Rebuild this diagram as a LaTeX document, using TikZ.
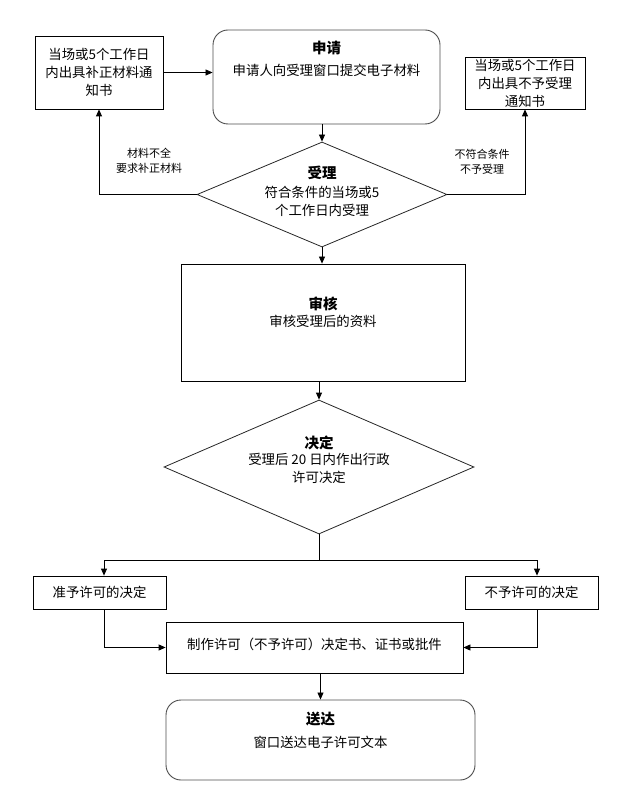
\documentclass[tikz,border=0pt]{standalone}
\usepackage{fontspec}
\setmainfont{Noto Sans CJK SC}
\usetikzlibrary{shapes.geometric,arrows.meta}
\begin{document}
\begin{tikzpicture}[x=1pt,y=-1pt,
  font=\fontsize{13.4}{18}\selectfont,
  box/.style={draw=black,line width=0.8pt,inner sep=0pt},
  rbox/.style={draw=black!70,line width=0.9pt,rounded corners=15pt,inner sep=0pt},
  dia/.style={draw=black!85,line width=0.8pt,shape=diamond,inner sep=0pt},
  txt/.style={align=center,inner sep=0pt},
  ttl/.style={font=\fontsize{14.5}{18}\selectfont\bfseries,inner sep=0pt},
  lbl/.style={align=center,inner sep=0pt,font=\fontsize{11}{15}\selectfont},
  arr/.style={draw=black,line width=0.8pt,-{Triangle[length=7pt,width=6pt]}},
  ln/.style={draw=black,line width=0.8pt}]
\useasboundingbox (0,0) rectangle (633,791);
% shapes
\node[box,minimum width=128pt,minimum height=73pt] (lb) at (99,72.5) {};
\node[txt] (lbt) at (99,72) {当场或5个工作日\\内出具补正材料通\\知书};
\node[rbox,minimum width=227pt,minimum height=94pt] (apply) at (326.5,77) {};
\node[ttl] (applyt) at (326.5,48) {申请};
\node[txt] (applyb) at (326.5,70) {申请人向受理窗口提交电子材料};
\node[box,minimum width=120pt,minimum height=52pt] (rb) at (525,83) {};
\node[txt] (rbt) at (525,83) {当场或5个工作日\\内出具不予受理\\通知书};
\node[dia,minimum width=250pt,minimum height=105pt] (d1) at (322,194.5) {};
\node[ttl] (d1t) at (322,173) {受理};
\node[txt] (d1b) at (322,201) {符合条件的当场或5\\个工作日内受理};
\node[box,minimum width=284pt,minimum height=117pt] (rev) at (323,322.5) {};
\node[ttl] (revt) at (323,304) {审核};
\node[txt] (revb) at (323,321) {审核受理后的资料};
\node[dia,minimum width=310pt,minimum height=134pt] (d2) at (319,467) {};
\node[ttl] (d2t) at (319,443) {决定};
\node[txt] (d2b) at (319,468.5) {受理后 20 日内作出行政\\许可决定};
\node[box,minimum width=133pt,minimum height=33pt] (ok) at (99.5,592.5) {};
\node[txt] (okt) at (99.5,592.5) {准予许可的决定};
\node[box,minimum width=133pt,minimum height=33pt] (no) at (531.5,592.5) {};
\node[txt] (not) at (531.5,592.5) {不予许可的决定};
\node[box,minimum width=297pt,minimum height=51pt] (mk) at (314.5,647.5) {};
\node[txt] (mkt) at (314.5,644) {制作许可（不予许可）决定书、证书或批件};
\node[rbox,minimum width=309pt,minimum height=80pt] (send) at (320.5,740) {};
\node[ttl] (sendt) at (320.5,719) {送达};
\node[txt] (sendb) at (320.5,742) {窗口送达电子许可文本};
% labels
\node[lbl] (l1) at (149,161) {材料不全\\要求补正材料};
\node[lbl] (l2) at (482,162) {不符合条件\\不予受理};
% connectors
\draw[arr] (lb.east) -- (lb.east -| apply.west);
\draw[arr] (apply.south -| d1.north) -- (d1.north);
\draw[arr] (d1.west) -| (lb.south);
\draw[arr] (d1.east) -| (rb.south);
\draw[arr] (d1.south) -- (rev.north -| d1.south);
\draw[arr] (rev.south -| d2.north) -- (d2.north);
\coordinate (j) at (319,560);
\draw[ln] (d2.south) -- (j);
\draw[arr] (j) -| ([xshift=4.5pt]ok.north);
\draw[arr] (j) -| ([xshift=5.5pt]no.north);
\draw[arr] ([xshift=4.5pt]ok.south) |- (mk.west);
\draw[arr] ([xshift=5.5pt]no.south) |- (mk.east);
\draw[arr] (mk.south -| send.north) -- (send.north);
\end{tikzpicture}
\end{document}
